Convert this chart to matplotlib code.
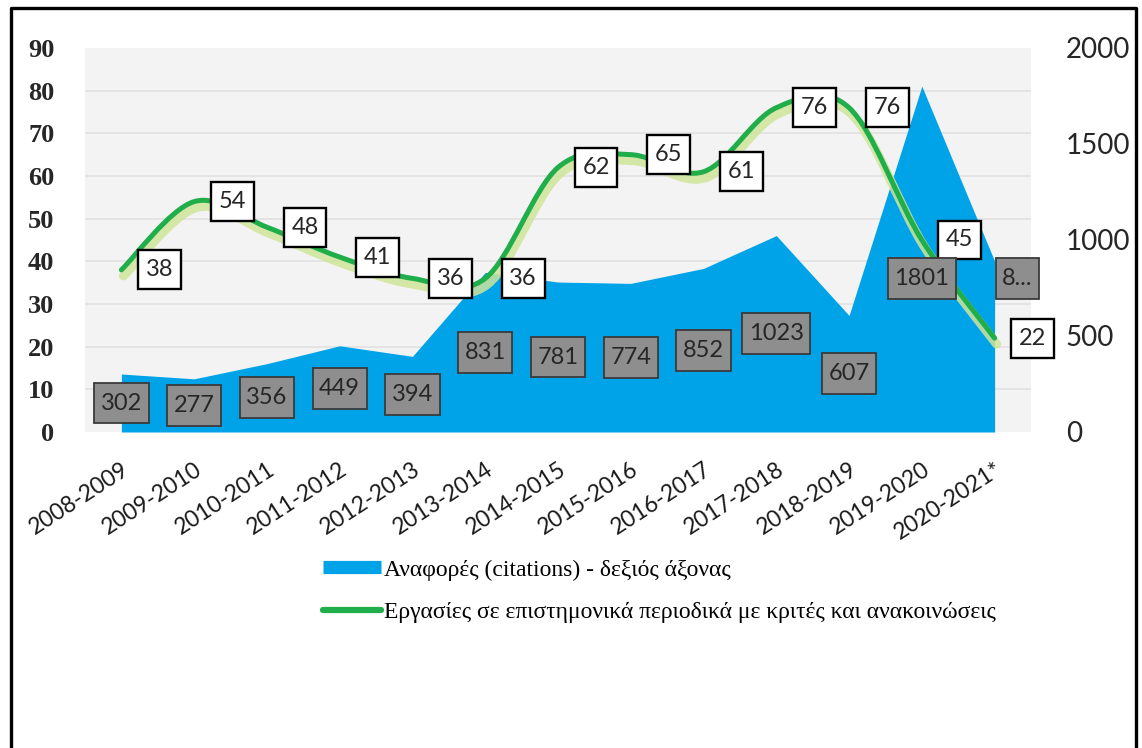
import numpy as np
import matplotlib
matplotlib.use("Agg")
import matplotlib.pyplot as plt
from matplotlib.path import Path
from matplotlib.patches import PathPatch
from matplotlib.lines import Line2D
from matplotlib.transforms import offset_copy

# ---------------- data ----------------
years = ["2008-2009", "2009-2010", "2010-2011", "2011-2012", "2012-2013",
         "2013-2014", "2014-2015", "2015-2016", "2016-2017", "2017-2018",
         "2018-2019", "2019-2020", "2020-2021*"]
citations = [302, 277, 356, 449, 394, 831, 781, 774, 852, 1023, 607, 1801, 890]
papers = [38, 54, 48, 41, 36, 36, 62, 65, 61, 76, 76, 45, 22]
left_ticks = [0, 10, 20, 30, 40, 50, 60, 70, 80, 90]
right_ticks = [0, 500, 1000, 1500, 2000]
legend_labels = ["Αναφορές (citations) - δεξιός άξονας",
                 "Εργασίες σε επιστημονικά περιοδικά με κριτές και ανακοινώσεις"]

# ---------------- style ----------------
BLUE = "#00a3e8"
GREEN = "#1fae4a"
SHADOW = "#cfe59a"
BG = "#f3f3f3"
GRID = "#e2e2e2"
LABEL_FONT = "Lato"


def padded_box(padx, pady):
    """Rectangular box style with separate horizontal / vertical padding."""
    def style(x0, y0, width, height, mutation_size):
        px = padx * mutation_size
        py = pady * mutation_size
        x0, y0 = x0 - px, y0 - py
        x1, y1 = x0 + width + 2 * px, y0 + height + 2 * py
        return Path([(x0, y0), (x1, y0), (x1, y1), (x0, y1), (x0, y0)],
                    closed=True)
    return style


W, H = 1142, 748
fig = plt.figure(figsize=(W / 100, H / 100), dpi=100)
fig.patch.set_facecolor("white")

left_px, right_px, bottom_px, top_px = 85, 1031, 432, 48
ax = fig.add_axes([left_px / W, 1 - bottom_px / H,
                   (right_px - left_px) / W, (bottom_px - top_px) / H])
ax2 = ax.twinx()

x = np.arange(len(years))

# area (right axis scale)
ax.set_facecolor(BG)
ax.fill_between(x, citations, 0, color=BLUE, lw=0, zorder=2)
ax.set_xlim(-0.5, len(years) - 0.5)
ax.set_ylim(0, 2000)
ax.yaxis.tick_right()
ax.set_yticks(right_ticks)
ax.set_yticklabels([str(t) for t in right_ticks], fontfamily="Lato",
                   fontsize=20, color="#262626", ha="left")
ax.tick_params(axis="y", length=0, pad=25)
# gridlines matching left-axis ticks
ax.set_yticks([t * 2000 / 90 for t in left_ticks], minor=True)
ax.tick_params(axis="y", which="minor", length=0)
ax.grid(which="minor", axis="y", color=GRID, lw=1.2, zorder=0)
ax.set_axisbelow(True)
for s in ax.spines.values():
    s.set_visible(False)

# x tick labels
ax.set_xticks(x)
ax.set_xticklabels(years, rotation=33, ha="right", va="top",
                   rotation_mode="anchor", fontfamily="Lato", fontsize=16.5,
                   color="#1a1a1a")
ax.tick_params(axis="x", length=0, pad=19)

# line (left axis scale)
ax2.set_ylim(0, 90)
ax2.yaxis.tick_left()
ax2.set_yticks(left_ticks)
ax2.set_yticklabels([str(t) for t in left_ticks], fontfamily="Liberation Serif",
                    fontweight="bold", fontsize=19, color="#262626")
ax2.tick_params(axis="y", length=0, pad=22)
for s in ax2.spines.values():
    s.set_visible(False)
ax2.patch.set_visible(False)

# smooth curve (Bezier through the points, like Excel "smoothed line")
pts = np.column_stack([x, papers]).astype(float)
n = len(pts)
verts = [tuple(pts[0])]
codes = [Path.MOVETO]
for i in range(n - 1):
    p0 = pts[i - 1] if i > 0 else pts[i]
    p1 = pts[i]
    p2 = pts[i + 1]
    p3 = pts[i + 2] if i + 2 < n else pts[i + 1]
    c1 = p1 + (p2 - p0) / 6.0
    c2 = p2 - (p3 - p1) / 6.0
    verts += [tuple(c1), tuple(c2), tuple(p2)]
    codes += [Path.CURVE4] * 3
path = Path(verts, codes)
shadow_tr = offset_copy(ax2.transData, fig=fig, x=2, y=-6, units="dots")
ax2.add_patch(PathPatch(path, fill=False, edgecolor=SHADOW, lw=6.5, alpha=0.85,
                        transform=shadow_tr, capstyle="round", zorder=3))
ax2.add_patch(PathPatch(path, fill=False, edgecolor=GREEN, lw=3.6,
                        capstyle="round", joinstyle="round", zorder=4))

# data labels for papers (white boxes to the right of the point)
for xi, v in zip(x, papers):
    ax2.annotate(str(v), xy=(xi, v), xycoords=ax2.transData,
                 xytext=(38, 0), textcoords="offset pixels",
                 ha="center", va="center", fontfamily=LABEL_FONT, fontsize=17,
                 color="#262626", zorder=6,
                 bbox=dict(boxstyle=padded_box(0.33, 0.38), fc="white",
                           ec="black", lw=1.7))

# data labels for citations (grey boxes in the middle of the area)
cit_y = [v / 2 for v in citations[:-2]] + [800, 800]
cit_dx = [0] * (len(citations) - 1) + [23]
cit_text = [str(v) for v in citations[:-1]] + [str(citations[-1])[0] + "..."]
for xi, yv, dx, t in zip(x, cit_y, cit_dx, cit_text):
    ax2.annotate(t, xy=(xi, yv), xycoords=ax.transData,
                 xytext=(dx, 0), textcoords="offset pixels",
                 ha="center", va="center", fontfamily=LABEL_FONT, fontsize=17,
                 color="#262626", zorder=7,
                 bbox=dict(boxstyle=padded_box(0.28, 0.42), fc="#8e8e8e",
                           ec="#3a3a3a", lw=1.3))

# legend
handles = [Line2D([], [], color=BLUE, lw=9.5, solid_capstyle="butt"),
           Line2D([], [], color=GREEN, lw=4.5, solid_capstyle="round")]
fig.legend(handles, legend_labels, loc="upper left",
           bbox_to_anchor=(323 / W, 1 - 559 / H), frameon=False,
           prop=dict(family="Liberation Serif", size=17),
           handlelength=2.45, handletextpad=0.12, labelspacing=0.88,
           borderpad=0, borderaxespad=0)

# outer frame (left, top, right)
fig.add_artist(Line2D([11 / W, 11 / W, 1136 / W, 1136 / W],
                      [0, 1 - 8 / H, 1 - 8 / H, 0],
                      transform=fig.transFigure, color="black", lw=2.4))

fig.savefig("out.png", dpi=100)
